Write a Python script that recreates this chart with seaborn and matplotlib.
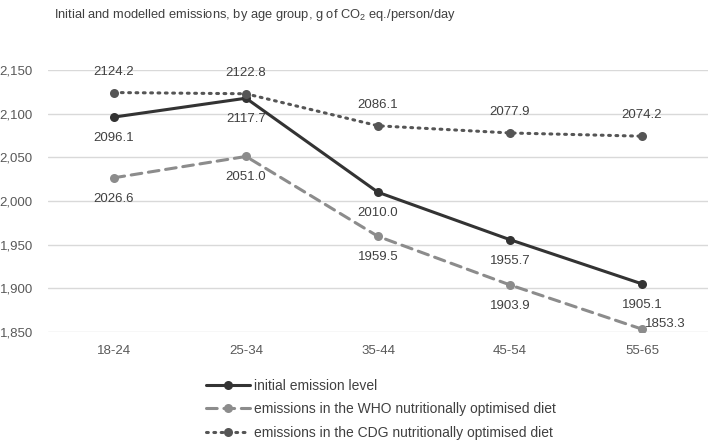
import matplotlib
matplotlib.use('Agg')
from matplotlib import pyplot as plt
from matplotlib.ticker import FuncFormatter
import seaborn as sns

sns.set_theme(style='white')
plt.rcParams['font.family'] = ['Liberation Sans', 'DejaVu Sans']
plt.rcParams['mathtext.fontset'] = 'custom'

# data
age_groups = ['18-24', '25-34', '35-44', '45-54', '55-65']
initial = [2096.1, 2117.7, 2010.0, 1955.7, 1905.1]
who_diet = [2026.6, 2051.0, 1959.5, 1903.9, 1853.3]
cdg_diet = [2124.2, 2122.8, 2086.1, 2077.9, 2074.2]
series_names = ['initial emission level',
                'emissions in the WHO nutritionally optimised diet',
                'emissions in the CDG nutritionally optimised diet']
y_ticks = [1850, 1900, 1950, 2000, 2050, 2100, 2150]

fig = plt.figure(figsize=(7.09, 4.40), dpi=100)
ax = fig.add_axes([48/709, 108/440, 660/709, 262/440])

txt = '#404040'
styles = [
    (initial, '#333333', '-', -15),
    (who_diet, '#8c8c8c', (0, (3.5, 2.2)), -15),
    (cdg_diet, '#555555', (0, (0.6, 1.8)), 15),
]

for (vals, col, ls, dy0), name in zip(styles, series_names):
    sns.lineplot(x=age_groups, y=vals, ax=ax, color=col, linewidth=2.2,
                 marker='o', markersize=6.5, markeredgewidth=0,
                 markerfacecolor=col, sort=False, label=name)
    ax.lines[-1].set_linestyle(ls)
    ax.lines[-1].set_dash_capstyle('round')
    for i, v in enumerate(vals):
        dx, dy, ha = 0, dy0, 'center'
        # last WHO label sits to the right of its point
        if name == series_names[1] and i == 4:
            dx, dy, ha = 2, 4, 'left'
        ax.annotate(f'{v:.1f}', (i, v), xytext=(dx, dy), textcoords='offset points',
                    ha=ha, va='center', fontsize=9.5, color=txt)

ax.set_xlim(-0.5, 4.5)
ax.set_ylim(1850, 2150)
ax.set_yticks(y_ticks)
ax.yaxis.set_major_formatter(FuncFormatter(lambda v, p: f'{int(v):,}'))
ax.grid(axis='y', color='#d9d9d9', linewidth=1)
ax.grid(axis='x', visible=False)
ax.set_axisbelow(True)
for s in ax.spines.values():
    s.set_visible(False)
ax.tick_params(axis='y', length=0, pad=11, labelsize=9.5, labelcolor='#595959')
ax.tick_params(axis='x', length=0, pad=9, labelsize=9.5, labelcolor='#595959')
ax.set_xlabel('')
ax.set_ylabel('')
ax.get_legend().remove()

handles, labels = ax.get_legend_handles_labels()
fig.legend(handles, labels, loc='upper left', bbox_to_anchor=(200/709, 1 - 373/440),
           frameon=False, fontsize=10, labelcolor=txt, handlelength=3.2,
           handletextpad=0.3, labelspacing=0.7, borderaxespad=0)

fig.text(255/709, 1 - 15/440,
         r'Initial and modelled emissions, by age group, g of CO$_\mathregular{2}$ eq./person/day',
         ha='center', va='center', fontsize=9.3, color=txt)

fig.savefig('out.png', dpi=100)
